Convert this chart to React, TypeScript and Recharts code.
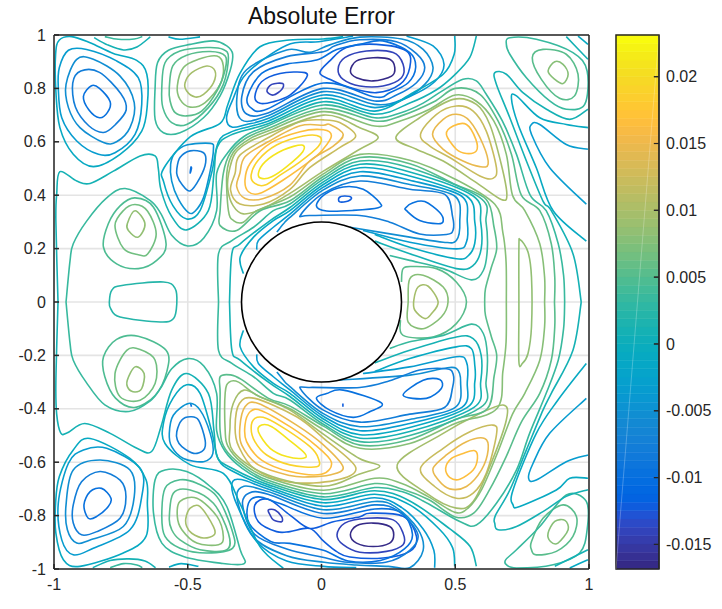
import { LineChart, Line, XAxis, YAxis, CartesianGrid, ReferenceDot, ReferenceArea, ReferenceLine } from "recharts";

// [level, flat x,y list, closed?]
type Contour = [number, number[], boolean?];

const axisTicks = [-1, -0.5, 0, 0.5, 1];
const yTicks = [-1, -0.8, -0.6, -0.4, -0.2, 0, 0.2, 0.4, 0.6, 0.8, 1];
const barTicks = [-0.015, -0.01, -0.005, 0, 0.005, 0.01, 0.015, 0.02];
const barMin = -0.01684;
const barMax = 0.02312;

const parula = [
  [.2081,.1663,.5292],[.2116,.1898,.5777],[.2123,.2138,.627],[.2081,.2386,.6771],[.1959,.2645,.7279],[.1707,.2919,.7792],[.1253,.3242,.8303],[.0591,.3598,.8683],
  [.0117,.3875,.882],[.006,.4086,.8828],[.0165,.4266,.8786],[.0329,.443,.872],[.0498,.4586,.8641],[.0629,.4737,.8554],[.0723,.4887,.8467],[.0779,.504,.8384],
  [.0793,.52,.8312],[.0749,.5375,.8263],[.0641,.557,.824],[.0488,.5772,.8228],[.0343,.5966,.8199],[.0265,.6137,.8135],[.0239,.6287,.8038],[.0231,.6418,.7913],
  [.0228,.6535,.7768],[.0267,.6642,.7607],[.0384,.6743,.7436],[.059,.6838,.7254],[.0843,.6928,.7062],[.1133,.7015,.6859],[.1453,.7098,.6646],[.1801,.7177,.6424],
  [.2178,.725,.6193],[.2586,.7317,.5954],[.3022,.7376,.5712],[.3482,.7424,.5473],[.3953,.7459,.5244],[.442,.7481,.5033],[.4871,.7491,.484],[.53,.7491,.4661],
  [.5709,.7485,.4494],[.6099,.7473,.4337],[.6473,.7456,.4188],[.6834,.7435,.4044],[.7184,.7411,.3905],[.7525,.7384,.3768],[.7858,.7356,.3633],[.8185,.7327,.3498],
  [.8507,.7299,.336],[.8824,.7274,.3217],[.9139,.7258,.3063],[.945,.7261,.2886],[.9739,.7314,.2666],[.9938,.7455,.2403],[.999,.7653,.2164],[.9955,.7861,.1967],
  [.988,.8066,.1794],[.9789,.8271,.1633],[.9697,.8481,.1475],[.9626,.8705,.1309],[.9589,.8949,.1132],[.9598,.9218,.0948],[.9661,.9514,.0755],[.9763,.9831,.0538],
];

// ── contours, upper half ─────────────────────────────────────────────────────

const topLeftLobe: Contour[] = [
  [-0.0098, [-.89,.77,-.86,.81,-.83,.8,-.79,.75,-.8,.71,-.83,.69,-.87,.72], true],
  [-0.0076, [-.93,.82,-.9,.865,-.83,.86,-.75,.78,-.73,.72,-.77,.665,-.815,.635,-.87,.66,-.92,.73], true],
  [-0.0054, [-.955,.815,-.915,.909,-.853,.909,-.753,.846,-.7,.747,-.716,.653,-.766,.6,-.815,.597,-.903,.653,-.946,.728], true],
  [-0.0032, [-.984,.803,-.98,.878,-.946,.943,-.878,.946,-.766,.903,-.685,.84,-.672,.74,-.697,.628,-.772,.559,-.834,.553,-.915,.603,-.971,.69], true],
  [-0.001, [-.993,.79,-.994,.928,-.98,.981,-.934,.994,-.865,.971,-.778,.931,-.691,.905,-.653,.853,-.651,.74,-.672,.64,-.753,.553,-.853,.507,-.928,.553,-.978,.653], true],
  [0.0012, [-.85,.99,-.8,.963,-.74,.944,-.69,.955,-.64,.993]],
  [0.0034, [-.81,.994,-.76,.984,-.7,.985,-.67,.994]],
  [-0.001, [-.572,.993,-.529,.984,-.454,.993]],
];

const topGreenLobe: Contour[] = [
  [0.0099, [-.51,.821,-.485,.859,-.429,.884,-.398,.865,-.404,.821,-.441,.778,-.472,.768,-.504,.79], true],
  [0.0078, [-.539,.809,-.516,.878,-.46,.909,-.391,.921,-.367,.884,-.379,.815,-.435,.747,-.491,.73,-.529,.759], true],
  [0.0056, [-.569,.803,-.556,.884,-.504,.924,-.416,.938,-.36,.921,-.36,.871,-.391,.79,-.448,.715,-.504,.697,-.547,.709,-.566,.753], true],
  [0.0045, [-.597,.803,-.585,.896,-.529,.94,-.429,.953,-.367,.946,-.348,.915,-.367,.815,-.423,.728,-.504,.665,-.56,.672,-.593,.728], true],
  [0.0034, [-.622,.803,-.613,.896,-.572,.943,-.491,.965,-.404,.978,-.354,.959,-.332,.928,-.342,.865,-.379,.772,-.441,.69,-.529,.634,-.591,.634,-.622,.684], true],
];

const topBlueLobe: Contour[] = [
  [-0.0098, [-.491,.483,-.486,.5,-.488,.505], true],
  [-0.0076, [-.541,.497,-.529,.541,-.491,.566,-.441,.559,-.433,.522,-.454,.466,-.491,.416,-.522,.441,-.539,.472], true],
  [-0.0045, [-.564,.516,-.547,.559,-.504,.588,-.416,.594,-.404,.572,-.416,.491,-.441,.391,-.472,.341,-.497,.335,-.535,.385,-.56,.453], true],
];

const leftHill: Contour[] = [
  [0.0085, [-.726,.293,-.697,.342,-.66,.293,-.685,.243,-.722,.268], true],
  [0.0065, [-.772,.286,-.741,.342,-.697,.365,-.65,.34,-.618,.255,-.65,.18,-.685,.177,-.74,.2], true],
  [0.0045, [-.815,.205,-.797,.293,-.753,.36,-.697,.39,-.628,.355,-.581,.218,-.616,.156,-.685,.125,-.766,.143], true],
  [0.0025, [-.793,0,-.784,.044,-.746,.062,-.591,.075,-.547,.05,-.541,-.006,-.553,-.062,-.603,-.075,-.753,-.056,-.788,-.025], true],
  [0.0085, [-.726,-.293,-.697,-.243,-.663,-.268,-.672,-.324,-.697,-.337,-.722,-.324], true],
  [0.0065, [-.772,-.268,-.728,-.181,-.678,-.178,-.622,-.218,-.622,-.305,-.678,-.368,-.753,-.355], true],
  [0.0045, [-.815,-.205,-.766,-.14,-.685,-.128,-.581,-.181,-.578,-.26,-.622,-.35,-.7,-.395,-.77,-.36,-.81,-.28], true],
];

const yellowLobe: Contour[] = [
  [0.021, [-.236,.482,-.211,.525,-.143,.569,-.074,.588,-.07,.563,-.13,.507,-.186,.469,-.224,.463], true],
  [0.0188, [-.263,.476,-.236,.532,-.168,.588,-.068,.622,-.006,.619,-.012,.582,-.08,.525,-.155,.475,-.211,.438,-.249,.444], true],
  [0.0166, [-.286,.457,-.267,.519,-.192,.594,-.08,.638,.007,.645,.037,.622,.006,.572,-.03,.538,-.143,.457,-.23,.407,-.273,.413], true],
  [0.0144, [-.305,.482,-.286,.544,-.2,.6,-.08,.66,.007,.662,.031,.665,.081,.628,.044,.584,-.044,.528,-.118,.438,-.217,.388,-.286,.388,-.317,.432], true],
  [0.0122, [-.323,.482,-.305,.55,-.2,.615,-.08,.675,.007,.682,.068,.672,.128,.622,.068,.578,-.044,.503,-.118,.422,-.217,.367,-.305,.367,-.34,.419], true],
  [0.01, [-.347,.482,-.323,.557,-.27,.6,-.2,.63,.007,.7,.143,.653,.212,.616,.143,.572,.007,.49,-.118,.407,-.22,.35,-.292,.33,-.33,.36,-.35,.42], true],
];

const rightLobe: Contour[] = [
  [0.0166, [.467,.628,.492,.659,.542,.665,.577,.609,.579,.566,.542,.556,.504,.572], true],
  [0.0144, [.415,.628,.455,.684,.504,.703,.554,.678,.604,.59,.623,.516,.592,.507,.529,.528,.455,.572], true],
  [0.0122, [.37,.628,.43,.703,.504,.734,.567,.715,.616,.64,.654,.503,.641,.463,.592,.472,.479,.541,.405,.584], true],
  [0.01, [.278,.616,.367,.69,.492,.759,.579,.74,.629,.665,.672,.516,.693,.403,.672,.384,.579,.447,.455,.528,.355,.572], true],
];

const topDarkLobes: Contour[] = [
  [-0.0164, [.108,.865,.131,.903,.193,.915,.255,.909,.274,.878,.262,.846,.193,.828,.131,.84], true],
  [-0.0142, [.062,.871,.087,.915,.168,.94,.268,.934,.305,.89,.299,.84,.23,.809,.143,.809,.081,.834], true],
  [-0.012, [-.006,.859,.031,.903,.093,.953,.205,.965,.318,.94,.33,.878,.293,.815,.205,.784,.106,.803,.031,.834], true],
  [-0.0142, [-.204,.79,-.186,.815,-.145,.818,-.148,.797,-.18,.775], true],
  [-0.012, [-.249,.769,-.224,.825,-.155,.856,-.062,.859,-.062,.831,-.118,.775,-.18,.75,-.23,.744], true],
  [-0.0098, [.352,.878,.33,.934,.23,.978,.143,.965,.057,.946,-.018,.906,-.13,.891,-.224,.856,-.277,.769,-.261,.725,-.205,.722,.007,.82,.199,.768,.255,.784,.324,.821], true],
  [-0.0076, [.386,.878,.355,.93,.28,.975,.143,.982,.05,.96,.007,.937,-.13,.919,-.255,.862,-.298,.769,-.28,.704,-.2,.708,.007,.8,.199,.753,.28,.775,.355,.821], true],
  [-0.0054, [.417,.878,.38,.946,.3,.985,.143,.992,.031,.963,-.044,.935,-.13,.944,-.28,.87,-.316,.769,-.298,.681,-.2,.698,.007,.788,.199,.74,.305,.759,.386,.815], true],
  [-0.0032, [.318,.996,.417,.959,.458,.89,.423,.825,.33,.77,.199,.728,.007,.775,-.2,.687,-.28,.665,-.335,.655,-.355,.69,-.333,.755,-.28,.856,-.13,.962,-.01,.975,.118,.996]],
];

const upperBand: Contour[] = [
  [-0.001, [.498,.996,.496,.928,.455,.853,.342,.784,.199,.715,.007,.763,-.2,.677,-.33,.64,-.385,.6,-.411,.482,-.454,.342,-.504,.311,-.555,.36,-.59,.45,-.59,.5,-.49,.619,-.379,.669,-.35,.74,-.305,.856,-.23,.956,-.12,.981,.006,.985,.081,.994]],
  [0.0012, [.579,.996,.554,.915,.497,.85,.43,.795,.33,.745,.199,.703,.007,.75,-.2,.668,-.34,.625,-.39,.58,-.402,.482,-.423,.342,-.504,.27,-.56,.32,-.6,.42,-.61,.5,-.622,.547,-.678,.547,-.778,.49,-.865,.444,-.915,.453,-.978,.488,-.99,.403,-.993,.303,-.985,0]],
  [0.0034, [.909,0,.905,.1,.885,.218,.84,.342,.78,.4,.729,.553,.676,.678,.616,.778,.579,.828,.529,.834,.45,.79,.38,.745,.3,.71,.199,.69,.007,.738,-.2,.66,-.29,.62,-.35,.56,-.392,.482,-.392,.342,-.44,.24,-.5,.21,-.56,.25,-.6,.33,-.64,.38,-.734,.425,-.803,.39,-.878,.303,-.928,.218,-.94,.155,-.955,0]],
  [0.0056, [.871,0,.872,.093,.859,.218,.816,.342,.747,.4,.71,.553,.66,.678,.592,.778,.5,.8,.42,.75,.3,.698,.199,.678,.007,.725,-.2,.65,-.28,.615,-.34,.56,-.367,.482,-.379,.342,-.379,.286,-.317,.268,-.229,.342,-.118,.379,.007,.47,.144,.541,.33,.518,.5,.44,.616,.384,.645,.28,.655,.2,.635,.13,.613,.05,.61,0]],
  [0.0078, [.834,0,.834,.093,.816,.218,.76,.342,.714,.4,.691,.553,.644,.678,.579,.752,.5,.775,.4,.72,.3,.68,.199,.659,.007,.713,-.2,.64,-.27,.61,-.33,.56,-.354,.482,-.348,.342,-.329,.305,-.292,.299,-.242,.342,-.118,.393,.007,.48,.144,.553,.33,.531,.5,.46,.648,.366,.678,.26,.69,.15,.691,0]],
];

const innerBand: Contour[] = [
  [0.0034, [-.385,0,-.385,.181,-.335,.23,-.254,.28,-.18,.342,-.118,.367,.007,.46,.144,.528,.33,.503,.592,.391,.615,.3,.62,.2,.605,.118,.56,.083,.455,.125,.33,.156,.255,.174]],
  [0.0012, [-.344,0,-.335,.181,-.304,.218,-.192,.305,-.118,.354,.007,.45,.144,.516,.33,.487,.567,.397,.595,.3,.597,.2,.567,.137,.504,.125,.33,.181,.199,.228]],
  [-0.001, [-.292,.106,-.304,.168,-.254,.243,-.18,.305,-.118,.342,.007,.44,.144,.503,.33,.472,.542,.397,.573,.3,.573,.22,.55,.175,.504,.162,.33,.205,.199,.253]],
  [-0.0032, [-.242,.196,-.236,.23,-.18,.28,-.118,.329,.007,.43,.144,.488,.33,.456,.523,.397,.545,.3,.542,.225,.504,.199,.33,.224,.155,.268]],
  [-0.0054, [-.167,.262,-.142,.293,-.118,.317,.007,.42,.144,.472,.33,.44,.498,.397,.517,.3,.504,.23,.455,.224,.33,.243,.106,.28]],
  [-0.0076, [-.078,.326,.007,.407,.144,.453,.33,.422,.461,.403,.49,.32,.492,.27,.467,.253,.367,.255,.255,.299,.143,.324,-.044,.324], true],
  [-0.0098, [-.019,.36,.012,.403,.081,.431,.156,.422,.218,.372,.212,.353,.118,.343,.019,.341], true],
  [-0.0098, [.315,.353,.342,.372,.386,.376,.442,.335,.455,.303,.436,.293,.367,.305,.318,.342], true],
  [-0.012, [.066,.391,.087,.397,.112,.391,.1,.378,.068,.375], true],
];

const centerHill: Contour[] = [
  [0.0099, [.345,.006,.361,.056,.399,.059,.436,0,.411,-.044,.386,-.062,.349,-.031], true],
  [0.0078, [.324,0,.33,.087,.38,.1,.455,.056,.473,0,.448,-.056,.38,-.1,.324,-.075], true],
  [0.0056, [.299,.075,.305,.125,.342,.133,.43,.125,.504,.075,.542,0,.504,-.081,.417,-.131,.305,-.125,.295,-.068]],
  [0.0085, [.743,.233,.772,.187,.785,.093,.785,-.093,.772,-.193,.751,-.23,.738,-.224,.738,-.031,.738,.205], true],
];

const topRight: Contour[] = [
  [0.0078, [.847,.865,.872,.9,.903,.89,.922,.853,.903,.818,.872,.834], true],
  [0.0056, [.788,.915,.828,.946,.915,.928,.959,.853,.946,.772,.89,.763,.822,.834], true],
  [0.0034, [.691,.965,.704,.99,.803,.984,.94,.934,.993,.865,.984,.74,.915,.722,.853,.753,.766,.84,.704,.928], true],
  [0.0012, [.915,.994,.996,.909]],
  [-0.001, [.959,.996,.996,.965]],
  [0.0012, [.996,.722,.928,.684,.841,.722,.753,.784,.691,.853,.648,.859,.654,.815,.704,.69,.766,.528,.828,.378,.859,.342,.94,.181,.971,0]],
  [-0.001, [.996,.653,.915,.665,.816,.69,.729,.772,.71,.763,.735,.665,.803,.503,.866,.342,.99,.228]],
  [-0.0032, [.996,.572,.915,.59,.816,.665,.785,.665,.785,.628,.853,.503,.99,.366]],
];

// ── contours, lower half ─────────────────────────────────────────────────────

const bottomLeftLobe: Contour[] = [
  [-0.0098, [-.888,-.76,-.865,-.71,-.822,-.698,-.787,-.735,-.797,-.766,-.84,-.803,-.872,-.81], true],
  [-0.0076, [-.928,-.76,-.897,-.673,-.828,-.635,-.753,-.667,-.731,-.729,-.753,-.81,-.84,-.86,-.897,-.872,-.928,-.828], true],
  [-0.0054, [-.955,-.76,-.928,-.629,-.828,-.592,-.716,-.629,-.7,-.729,-.741,-.841,-.865,-.891,-.915,-.903,-.95,-.853], true],
  [-0.0032, [-.984,-.754,-.946,-.604,-.89,-.554,-.803,-.548,-.678,-.623,-.672,-.729,-.716,-.853,-.853,-.922,-.928,-.947,-.971,-.891], true],
  [-0.001, [-.993,-.866,-.965,-.965,-.903,-.99,-.741,-.94,-.656,-.878,-.651,-.754,-.656,-.666,-.716,-.586,-.865,-.511,-.928,-.554,-.98,-.654,-.994,-.754], true],
  [0.0012, [-.855,-.995,-.79,-.968,-.72,-.962,-.66,-.97,-.62,-.995]],
  [0.0034, [-.79,-.995,-.74,-.98,-.69,-.985,-.67,-.995]],
  [-0.001, [-.57,-.993,-.525,-.98,-.46,-.99]],
];

const bottomGreenLobe: Contour[] = [
  [0.0099, [-.507,-.81,-.491,-.772,-.454,-.766,-.404,-.841,-.401,-.872,-.441,-.884,-.485,-.866,-.504,-.841], true],
  [0.0078, [-.539,-.803,-.529,-.747,-.466,-.735,-.391,-.803,-.367,-.878,-.385,-.909,-.466,-.903,-.522,-.853], true],
  [0.0056, [-.569,-.81,-.554,-.716,-.491,-.704,-.404,-.754,-.348,-.866,-.354,-.928,-.454,-.928,-.529,-.891,-.56,-.853], true],
  [0.0045, [-.597,-.803,-.585,-.698,-.529,-.666,-.466,-.679,-.391,-.729,-.335,-.853,-.332,-.922,-.429,-.94,-.529,-.922,-.585,-.878], true],
  [0.0034, [-.628,-.791,-.622,-.666,-.585,-.629,-.504,-.635,-.416,-.691,-.354,-.766,-.304,-.928,-.289,-.98,-.379,-.978,-.516,-.953,-.597,-.903], true],
];

const bottomBlueLobe: Contour[] = [
  [-0.0098, [-.49,-.378,-.486,-.392], false],
  [-0.0076, [-.541,-.486,-.522,-.442,-.491,-.43,-.46,-.442,-.435,-.517,-.441,-.554,-.478,-.567,-.522,-.542,-.539,-.517], true],
  [-0.0045, [-.569,-.492,-.554,-.424,-.497,-.38,-.454,-.405,-.416,-.492,-.406,-.567,-.441,-.598,-.516,-.586,-.56,-.542], true],
];

const bottomYellow: Contour[] = [
  [0.021, [-.236,-.486,-.224,-.461,-.186,-.467,-.13,-.51,-.062,-.567,-.068,-.585,-.13,-.579,-.192,-.548], true],
  [0.0188, [-.263,-.473,-.249,-.436,-.205,-.436,-.13,-.479,-.043,-.542,-.012,-.585,-.018,-.617,-.118,-.61,-.205,-.573,-.249,-.523], true],
  [0.0166, [-.286,-.461,-.267,-.411,-.224,-.407,-.118,-.467,-.024,-.535,.037,-.6,0,-.645,-.118,-.635,-.224,-.592,-.28,-.523], true],
  [0.0144, [-.305,-.467,-.286,-.392,-.236,-.38,-.093,-.461,.007,-.535,.081,-.619,.031,-.648,-.05,-.655,-.118,-.65,-.236,-.61,-.298,-.536], true],
  [0.0122, [-.323,-.467,-.307,-.38,-.249,-.361,-.093,-.43,.007,-.51,.128,-.62,.05,-.668,-.118,-.675,-.25,-.625,-.31,-.54], true],
  [0.01, [-.342,-.467,-.33,-.38,-.29,-.33,-.22,-.36,-.118,-.405,.007,-.495,.14,-.585,.218,-.615,.14,-.645,.007,-.69,-.2,-.648,-.33,-.56], true],
];

const bottomRightLobe: Contour[] = [
  [0.0166, [.464,-.623,.486,-.586,.529,-.567,.573,-.557,.583,-.586,.567,-.629,.517,-.664,.479,-.657], true],
  [0.0144, [.417,-.623,.467,-.573,.542,-.523,.61,-.511,.623,-.554,.598,-.629,.542,-.691,.479,-.7,.436,-.666], true],
  [0.0122, [.37,-.623,.455,-.548,.555,-.486,.641,-.461,.654,-.498,.616,-.642,.567,-.716,.504,-.735,.423,-.691], true],
  [0.01, [.283,-.61,.455,-.492,.579,-.424,.679,-.386,.691,-.442,.629,-.617,.567,-.747,.504,-.772,.392,-.716], true],
];

const bottomDarkLobes: Contour[] = [
  [-0.0164, [.108,-.872,.131,-.838,.193,-.828,.255,-.841,.27,-.872,.255,-.903,.193,-.916,.131,-.903], true],
  [-0.0142, [.058,-.872,.087,-.828,.168,-.81,.268,-.816,.305,-.866,.305,-.909,.243,-.934,.143,-.937,.081,-.909], true],
  [-0.012, [-.249,-.76,-.199,-.739,-.118,-.798,-.043,-.848,.044,-.823,.144,-.804,.181,-.791,.305,-.803,.355,-.878,.33,-.934,.23,-.959,.106,-.955,.057,-.935,.007,-.895,-.043,-.848,-.118,-.86,-.168,-.86,-.236,-.823], true],
  [-0.0142, [-.199,-.779,-.174,-.779,-.149,-.804,-.149,-.823,-.18,-.816,-.192,-.798], true],
  [-0.0098, [.34,-.87,.31,-.925,.22,-.968,.1,-.97,.007,-.93,-.118,-.904,-.19,-.897,-.27,-.83,-.273,-.754,-.236,-.73,-.155,-.755,.007,-.81,.199,-.775,.3,-.79], true],
  [-0.0076, [.36,-.87,.33,-.93,.24,-.975,.1,-.975,0,-.955,-.13,-.925,-.25,-.87,-.295,-.76,-.27,-.715,-.2,-.72,.007,-.792,.199,-.76,.29,-.785], true],
  [-0.0054, [.33,-.995,.38,-.93,.36,-.85,.28,-.77,.199,-.747,.007,-.778,-.2,-.71,-.29,-.69,-.315,-.74,-.255,-.88,-.13,-.95,.01,-.975,.13,-.985,.25,-.99], true],
  [-0.0032, [.423,-.995,.42,-.93,.38,-.85,.3,-.77,.199,-.733,.007,-.765,-.2,-.7,-.3,-.665,-.335,-.68,-.316,-.76,-.24,-.9,-.13,-.97,.007,-.99,.13,-.995]],
];

const lowerBand: Contour[] = [
  [-0.001, [.498,-.99,.49,-.92,.44,-.85,.33,-.76,.199,-.72,.007,-.752,-.2,-.692,-.33,-.635,-.385,-.59,-.411,-.482,-.454,-.342,-.504,-.31,-.555,-.36,-.59,-.45,-.585,-.53,-.49,-.61,-.367,-.642,-.305,-.754,-.23,-.916,-.143,-.997]],
  [0.0012, [.579,-.99,.555,-.915,.48,-.85,.33,-.745,.199,-.707,.007,-.74,-.2,-.684,-.34,-.62,-.39,-.58,-.402,-.482,-.423,-.342,-.504,-.268,-.56,-.33,-.6,-.467,-.635,-.56,-.69,-.548,-.79,-.492,-.885,-.455,-.95,-.49,-.975,-.49,-.99,-.42,-.993,-.3,-.985,0]],
  [0.0034, [.909,0,.905,-.1,.885,-.218,.84,-.342,.778,-.492,.729,-.629,.654,-.754,.579,-.835,.517,-.822,.38,-.745,.3,-.71,.199,-.695,.007,-.73,-.2,-.676,-.3,-.62,-.36,-.56,-.392,-.482,-.392,-.342,-.44,-.24,-.5,-.212,-.56,-.25,-.6,-.32,-.64,-.37,-.72,-.41,-.81,-.385,-.88,-.3,-.928,-.218,-.94,-.155,-.955,0]],
  [0.0056, [.871,0,.872,-.093,.859,-.218,.816,-.342,.747,-.45,.69,-.58,.63,-.7,.57,-.79,.5,-.805,.4,-.74,.3,-.7,.199,-.68,.007,-.718,-.2,-.668,-.3,-.61,-.36,-.55,-.379,-.482,-.379,-.34,-.379,-.28,-.34,-.273,-.3,-.29,-.2,-.36,-.118,-.39,.007,-.465,.144,-.536,.33,-.515,.5,-.44,.62,-.4,.645,-.28,.655,-.2,.635,-.13,.613,-.05,.61,0]],
  [0.0078, [.834,0,.834,-.093,.816,-.218,.76,-.342,.714,-.42,.66,-.56,.6,-.7,.55,-.77,.5,-.788,.4,-.73,.3,-.68,.199,-.66,.007,-.705,-.2,-.658,-.3,-.6,-.35,-.54,-.36,-.482,-.36,-.34,-.345,-.3,-.31,-.3,-.24,-.35,-.118,-.4,.007,-.478,.144,-.548,.33,-.53,.5,-.455,.655,-.4,.678,-.26,.69,-.15,.691,0]],
];

const lowerInnerBand: Contour[] = [
  [0.0034, [-.385,0,-.385,-.181,-.335,-.23,-.254,-.28,-.18,-.342,-.118,-.367,.007,-.458,.144,-.523,.33,-.5,.595,-.395,.615,-.3,.62,-.2,.605,-.118,.56,-.083,.455,-.125,.33,-.149,.255,-.174]],
  [0.0012, [-.344,0,-.335,-.181,-.304,-.218,-.192,-.305,-.118,-.354,.007,-.448,.144,-.51,.33,-.485,.57,-.395,.595,-.3,.597,-.2,.567,-.137,.504,-.131,.33,-.181,.199,-.228]],
  [-0.001, [-.292,-.106,-.304,-.168,-.254,-.243,-.18,-.305,-.118,-.342,.007,-.438,.144,-.497,.33,-.47,.545,-.395,.573,-.3,.573,-.237,.56,-.174,.504,-.168,.33,-.212,.199,-.26]],
  [-0.0032, [-.242,-.196,-.236,-.23,-.18,-.28,-.118,-.329,.007,-.428,.144,-.482,.33,-.455,.525,-.395,.545,-.3,.542,-.225,.504,-.205,.33,-.243,.155,-.268]],
  [-0.0054, [-.167,-.262,-.142,-.293,-.118,-.317,.007,-.418,.144,-.467,.33,-.44,.5,-.395,.52,-.3,.504,-.249,.455,-.249,.33,-.274,.062,-.293]],
  [-0.0076, [.007,-.405,.144,-.45,.33,-.42,.46,-.395,.49,-.32,.492,-.27,.467,-.25,.367,-.255,.255,-.295,.143,-.32,-.044,-.32,-.078,-.326], true],
  [-0.0098, [-.019,-.361,.019,-.343,.081,-.33,.224,-.378,.18,-.411,.118,-.432,.031,-.405], true],
  [-0.0098, [.305,-.349,.38,-.293,.442,-.29,.448,-.324,.392,-.361], true],
  [-0.012, [.08,-.38,.08,-.392]],
];

const bottomRight: Contour[] = [
  [0.0078, [.847,-.866,.872,-.822,.91,-.818,.922,-.853,.884,-.903,.856,-.897], true],
  [0.0056, [.785,-.897,.828,-.81,.903,-.76,.953,-.803,.94,-.878,.878,-.934,.803,-.947,.785,-.928], true],
  [0.0034, [.689,-.965,.729,-.928,.816,-.841,.915,-.723,.99,-.747,.993,-.853,.965,-.94,.866,-.984,.729,-.996,.691,-.984], true],
  [0.0012, [.872,-.99,.996,-.928]],
  [-0.001, [.928,-.996,.996,-.965]],
  [0.0012, [.971,0,.94,-.181,.859,-.342,.828,-.405,.766,-.554,.704,-.704,.65,-.8,.648,-.83,.66,-.853,.729,-.841,.828,-.785,.915,-.728,.996,-.703]],
  [-0.001, [.99,-.23,.884,-.367,.803,-.492,.716,-.704,.716,-.76,.741,-.766,.878,-.704,.928,-.66,.996,-.66]],
  [-0.0032, [.99,-.361,.853,-.492,.791,-.604,.774,-.66,.803,-.667,.915,-.598,.996,-.573]],
];

const allContours = [...topLeftLobe, ...topGreenLobe, ...topBlueLobe, ...leftHill, ...yellowLobe, ...rightLobe, ...topDarkLobes, ...upperBand, ...innerBand, ...centerHill, ...topRight,
  ...bottomLeftLobe, ...bottomGreenLobe, ...bottomBlueLobe, ...bottomYellow, ...bottomRightLobe, ...bottomDarkLobes, ...lowerBand, ...lowerInnerBand, ...bottomRight];

// ── helpers ──────────────────────────────────────────────────────────────────

const rgb = (c: number[]) => `rgb(${c.map((v) => Math.round(v * 255)).join(",")})`;

function levelColor(level: number) {
  const i = Math.floor(((level - barMin) / (barMax - barMin)) * parula.length);
  return rgb(parula[Math.max(0, Math.min(parula.length - 1, i))]);
}

function toPoints(flat: number[], closed?: boolean) {
  const pts: { x: number; y: number }[] = [];
  for (let i = 0; i < flat.length; i += 2) pts.push({ x: flat[i], y: flat[i + 1] });
  if (closed) pts.push(pts[0]);
  return pts;
}

// Catmull-Rom through every point, wrapping round when the line closes on itself
const smooth: any = (ctx: any) => {
  let p: number[][] = [];
  return {
    areaStart() {},
    areaEnd() {},
    lineStart() {
      p = [];
    },
    point(x: number, y: number) {
      p.push([+x, +y]);
    },
    lineEnd() {
      const closed = p.length > 3 && p[0][0] === p[p.length - 1][0] && p[0][1] === p[p.length - 1][1];
      if (closed) p.pop();
      const n = p.length;
      const at = (i: number) => (closed ? p[(i + n) % n] : p[Math.max(0, Math.min(n - 1, i))]);
      ctx.moveTo(p[0][0], p[0][1]);
      for (let i = 0; i < (closed ? n : n - 1); i++) {
        const [a, b, c, d] = [at(i - 1), at(i), at(i + 1), at(i + 2)];
        ctx.bezierCurveTo(b[0] + (c[0] - a[0]) / 6, b[1] + (c[1] - a[1]) / 6, c[0] - (d[0] - b[0]) / 6, c[1] - (d[1] - b[1]) / 6, c[0], c[1]);
      }
      if (closed) ctx.closePath();
    },
  };
};

const font = { fontFamily: "Liberation Sans", fontSize: 16, fill: "#262626" };
const dark = "#262626";
const bandStep = (barMax - barMin) / parula.length;
const barEnds = [{ x: 0, y: barMin }, { x: 1, y: barMax }];

export default function App() {
  return (
    <div style={{ position: "absolute", left: 0, top: 0, width: 722, height: 609, background: "#fff", overflow: "hidden" }}>
      <div style={{ position: "absolute", left: 54, top: 3, width: 535, textAlign: "center", font: "23px 'Liberation Sans'", color: "#111", lineHeight: "26px" }}>
        Absolute Error
      </div>
      <div style={{ position: "absolute", left: 0, top: 0 }}>
        <LineChart width={600} height={609} margin={{ top: 35, right: 11, bottom: 0, left: 14 }}>
          <CartesianGrid stroke="#e4e4e4" strokeWidth={1.6} />
          <XAxis type="number" dataKey="x" domain={[-1, 1]} ticks={axisTicks} interval={0} height={40} stroke={dark} strokeWidth={1.5} tick={font} tickSize={-5} tickMargin={15} />
          <YAxis type="number" dataKey="y" domain={[-1, 1]} ticks={yTicks} interval={0} width={40} stroke={dark} strokeWidth={1.5} tick={font} tickSize={-5} tickMargin={13} />
          {allContours.map(([level, flat, closed], i) => (
            <Line key={i} data={toPoints(flat, closed)} dataKey="y" type={smooth} stroke={levelColor(level)} strokeWidth={1.6} dot={false} isAnimationActive={false} />
          ))}
          <ReferenceLine y={1} stroke={dark} strokeWidth={1.5} />
          <ReferenceLine x={1} stroke={dark} strokeWidth={1.5} />
          <ReferenceDot x={0} y={0} r={80} fill="#fff" stroke="#000" strokeWidth={1.6} />
        </LineChart>
      </div>
      <div style={{ position: "absolute", left: 600, top: 0 }}>
        <LineChart width={122} height={609} margin={{ top: 35, right: 63, bottom: 40, left: 16 }}>
          <XAxis type="number" dataKey="x" domain={[0, 1]} hide />
          <YAxis orientation="right" type="number" dataKey="y" domain={[barMin, barMax]} ticks={barTicks} interval={0} width={0.01} stroke={dark} tick={font} tickSize={-5} tickMargin={12} tickFormatter={(v) => String(v)} />
          <Line data={barEnds} dataKey="y" stroke="none" dot={false} isAnimationActive={false} />
          {parula.map((c, i) => (
            <ReferenceArea key={i} y1={barMin + i * bandStep} y2={barMin + (i + 1) * bandStep} fill={rgb(c)} fillOpacity={1} stroke={rgb(c)} strokeWidth={0.5} />
          ))}
          <ReferenceLine segment={barEnds} stroke="#fff" strokeOpacity={0.25} />
          {barTicks.map((t) => (
            <ReferenceLine key={t} segment={[{ x: 0.88, y: t }, { x: 1, y: t }]} stroke={dark} strokeWidth={1.2} />
          ))}
          <ReferenceArea y1={barMin} y2={barMax} fill="none" stroke={dark} strokeWidth={1.5} />
        </LineChart>
      </div>
    </div>
  );
}
